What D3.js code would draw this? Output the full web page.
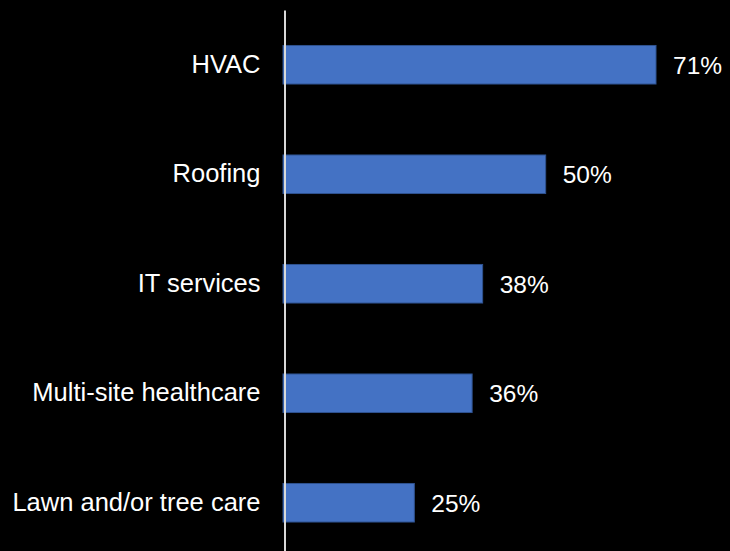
<!DOCTYPE html>
<html>
<head>
<meta charset="utf-8">
<script src="https://cdn.jsdelivr.net/npm/d3@7/dist/d3.min.js"></script>
<style>
  html, body { margin: 0; padding: 0; background: #000; }
  svg { display: block; }
</style>
</head>
<body>
<script>
// Share of respondents by industry
const categories = ["HVAC", "Roofing", "IT services", "Multi-site healthcare", "Lawn and/or tree care"];
const values = [71, 50, 38, 36, 25];
const valueLabels = ["71%", "50%", "38%", "36%", "25%"];

const W = 730, H = 551;
const svg = d3.select("body").append("svg")
  .attr("width", W).attr("height", H)
  .style("background", "#000");

const x = d3.scaleLinear().domain([0, 71]).range([283, 656]);
const y = d3.scaleBand().domain(categories).range([10, 557.5])
  .paddingInner(0.648).paddingOuter(0.324);

const font = "'Liberation Sans', Arial, sans-serif";

// bars
svg.append("g").selectAll("rect")
  .data(categories)
  .join("rect")
  .attr("x", x(0))
  .attr("y", d => y(d))
  .attr("width", (d, i) => x(values[i]) - x(0))
  .attr("height", y.bandwidth())
  .attr("fill", "#4472C4")
  .attr("stroke", "#2F528F")
  .attr("stroke-width", 1);

// value labels
svg.append("g").selectAll("text")
  .data(categories)
  .join("text")
  .attr("x", (d, i) => x(values[i]) + 17)
  .attr("y", d => y(d) + y.bandwidth() / 2)
  .attr("dy", "0.36em")
  .attr("fill", "#fff")
  .style("font-family", font)
  .style("font-size", "24.5px")
  .text((d, i) => valueLabels[i]);

// category axis
const axis = svg.append("g")
  .attr("transform", "translate(284.5,0)")
  .call(d3.axisLeft(y).tickSize(0).tickPadding(24));
axis.select(".domain").attr("stroke", "#D9D9D9").attr("stroke-width", 2);
axis.selectAll("text")
  .attr("fill", "#fff")
  .style("font-family", font)
  .style("font-size", "25.5px");
</script>
</body>
</html>
